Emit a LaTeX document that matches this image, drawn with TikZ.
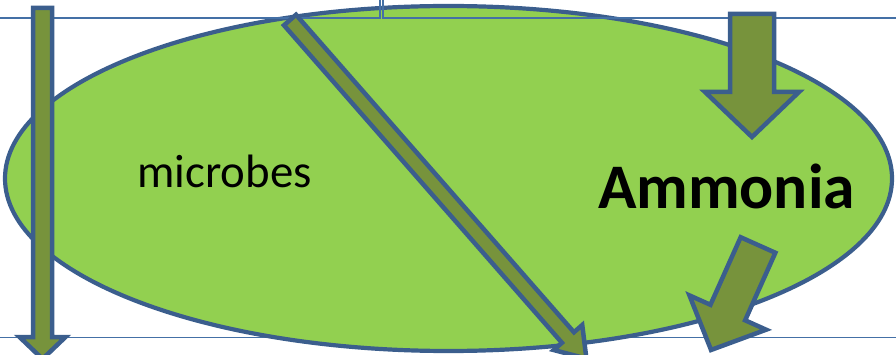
\documentclass[tikz,border=0pt]{standalone}
\usepackage{fontspec}
\setmainfont{Carlito}
\usepackage{xcolor}
\usepackage{tikz}
\usetikzlibrary{shapes.geometric,positioning}
\definecolor{leaf}{HTML}{92D050}
\definecolor{olive}{HTML}{77933C}
\definecolor{edge}{HTML}{3B5E8D}
\definecolor{grid}{HTML}{4470A6}
\newcommand{\blockarrow}[4]{(0,-#2) -- ({#1-#4},-#2) -- ({#1-#4},-#3) -- (#1,0) -- ({#1-#4},#3) -- ({#1-#4},#2) -- (0,#2) -- cycle}

\begin{document}
\begin{tikzpicture}[
  x=1pt,y=-1pt,
  soil/.style={ellipse,draw=edge,fill=leaf,line width=4.2pt,minimum width=887pt,minimum height=345pt,inner sep=0pt},
  cell/.style={draw=grid,line width=1.1pt},
  flow/.style={draw=edge,fill=olive,line width=4.5pt,line join=miter},
  lbl/.style={text=black,inner sep=0pt,anchor=base}
]
\useasboundingbox (0,0) rectangle (896,355);
\draw[cell] (0,337.5) -- (896,337.5);
\node[soil] (pool) at (448.5,178.5) {};
\draw[cell] (0,18) -- (380,18) -- (380,0);
\draw[cell] (383,0) -- (383,18) -- (896,18);

\coordinate (fix)   at (42.5,8);
\coordinate (leach) at (290,20);
\coordinate (input) at (752,14);
\coordinate (loss)  at (758,245);

\draw[flow,shift={(fix)},rotate=-90]      \blockarrow{351}{9.5}{23}{22};
\draw[flow,shift={(leach)},rotate=-48.8]  \blockarrow{450}{8}{19}{28};
\draw[flow,shift={(input)},rotate=-90]    \blockarrow{123}{22}{47}{45};
\draw[flow,shift={(loss)},rotate=-114.1]  \blockarrow{115}{19}{42}{41};

\node[lbl,font=\fontsize{46.8}{56}\selectfont]          (mic) at (224.5,188)   {microbes};
\node[lbl,font=\bfseries\fontsize{63.5}{76}\selectfont] (amm) at (726.5,208.5) {Ammonia};
\end{tikzpicture}
\end{document}
